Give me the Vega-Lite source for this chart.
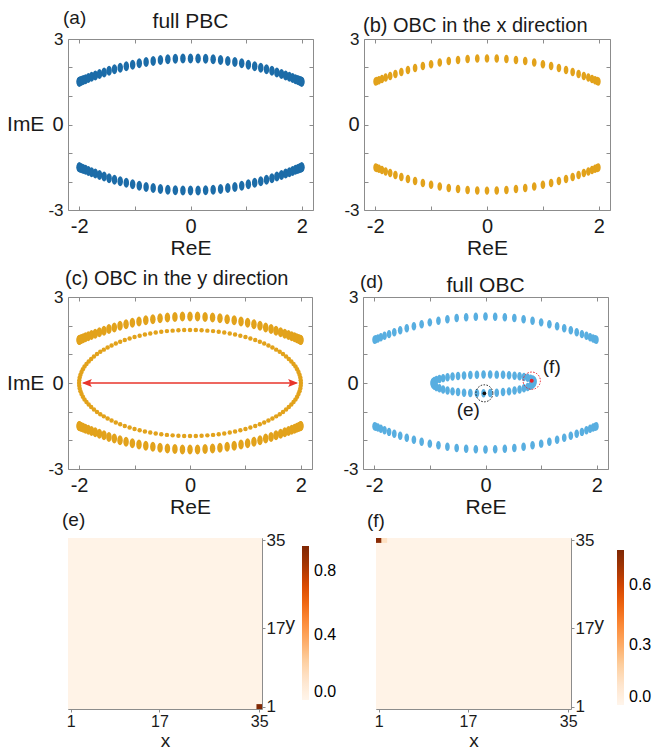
{
"$schema":"https://vega.github.io/schema/vega-lite/v6.json",
"padding":{"left":6,"top":8,"right":0,"bottom":0},
"config":{
 "font":"Liberation Sans",
 "view":{"stroke":"#8c8c8c","strokeWidth":1},
 "axis":{"domain":false,"grid":false,"tickColor":"#8c8c8c","labelColor":"#1a1a1a","titleColor":"#1a1a1a","titleFontWeight":"normal","labelFont":"Liberation Sans","titleFont":"Liberation Sans","labelOverlap":false},
 "text":{"font":"Liberation Sans","color":"#1a1a1a"}
},
"datasets":{
"pbc":[
{"re":-2,"im":1.5},{"re":-1.995,"im":1.504},{"re":-1.981,"im":1.516},{"re":-1.958,"im":1.534},{"re":-1.926,"im":1.56},{"re":-1.885,"im":1.592},{"re":-1.834,"im":1.63},{"re":-1.776,"im":1.673},{"re":-1.709,"im":1.721},{"re":-1.634,"im":1.773},{"re":-1.551,"im":1.827},{"re":-1.462,"im":1.882},{"re":-1.365,"im":1.938},{"re":-1.262,"im":1.994},{"re":-1.153,"im":2.048},{"re":-1.039,"im":2.099},{"re":-0.92,"im":2.146},{"re":-0.797,"im":2.19},{"re":-0.67,"im":2.228},{"re":-0.54,"im":2.26},{"re":-0.407,"im":2.286},{"re":-0.272,"im":2.305},{"re":-0.136,"im":2.316},{"re":0,"im":2.32},{"re":0.136,"im":2.316},{"re":0.272,"im":2.305},{"re":0.407,"im":2.286},{"re":0.54,"im":2.26},{"re":0.67,"im":2.228},{"re":0.797,"im":2.19},{"re":0.92,"im":2.146},{"re":1.039,"im":2.099},{"re":1.153,"im":2.048},{"re":1.262,"im":1.994},{"re":1.365,"im":1.938},{"re":1.462,"im":1.882},{"re":1.551,"im":1.827},{"re":1.634,"im":1.773},{"re":1.709,"im":1.721},{"re":1.776,"im":1.673},{"re":1.834,"im":1.63},{"re":1.885,"im":1.592},{"re":1.926,"im":1.56},{"re":1.958,"im":1.534},{"re":1.981,"im":1.516},{"re":1.995,"im":1.504},{"re":2,"im":1.5},
{"re":-2,"im":-1.5},{"re":-1.995,"im":-1.504},{"re":-1.981,"im":-1.516},{"re":-1.958,"im":-1.534},{"re":-1.926,"im":-1.56},{"re":-1.885,"im":-1.592},{"re":-1.834,"im":-1.63},{"re":-1.776,"im":-1.673},{"re":-1.709,"im":-1.721},{"re":-1.634,"im":-1.773},{"re":-1.551,"im":-1.827},{"re":-1.462,"im":-1.882},{"re":-1.365,"im":-1.938},{"re":-1.262,"im":-1.994},{"re":-1.153,"im":-2.048},{"re":-1.039,"im":-2.099},{"re":-0.92,"im":-2.146},{"re":-0.797,"im":-2.19},{"re":-0.67,"im":-2.228},{"re":-0.54,"im":-2.26},{"re":-0.407,"im":-2.286},{"re":-0.272,"im":-2.305},{"re":-0.136,"im":-2.316},{"re":0,"im":-2.32},{"re":0.136,"im":-2.316},{"re":0.272,"im":-2.305},{"re":0.407,"im":-2.286},{"re":0.54,"im":-2.26},{"re":0.67,"im":-2.228},{"re":0.797,"im":-2.19},{"re":0.92,"im":-2.146},{"re":1.039,"im":-2.099},{"re":1.153,"im":-2.048},{"re":1.262,"im":-1.994},{"re":1.365,"im":-1.938},{"re":1.462,"im":-1.882},{"re":1.551,"im":-1.827},{"re":1.634,"im":-1.773},{"re":1.709,"im":-1.721},{"re":1.776,"im":-1.673},{"re":1.834,"im":-1.63},{"re":1.885,"im":-1.592},{"re":1.926,"im":-1.56},{"re":1.958,"im":-1.534},{"re":1.981,"im":-1.516},{"re":1.995,"im":-1.504},{"re":2,"im":-1.5}
],
"obcx":[
{"re":-1.992,"im":1.506},{"re":-1.97,"im":1.525},{"re":-1.932,"im":1.555},{"re":-1.879,"im":1.596},{"re":-1.813,"im":1.646},{"re":-1.732,"im":1.705},{"re":-1.638,"im":1.77},{"re":-1.532,"im":1.839},{"re":-1.414,"im":1.91},{"re":-1.286,"im":1.981},{"re":-1.147,"im":2.05},{"re":-1,"im":2.115},{"re":-0.845,"im":2.174},{"re":-0.684,"im":2.224},{"re":-0.518,"im":2.265},{"re":-0.347,"im":2.295},{"re":-0.174,"im":2.314},{"re":0,"im":2.32},{"re":0.174,"im":2.314},{"re":0.347,"im":2.295},{"re":0.518,"im":2.265},{"re":0.684,"im":2.224},{"re":0.845,"im":2.174},{"re":1,"im":2.115},{"re":1.147,"im":2.05},{"re":1.286,"im":1.981},{"re":1.414,"im":1.91},{"re":1.532,"im":1.839},{"re":1.638,"im":1.77},{"re":1.732,"im":1.705},{"re":1.813,"im":1.646},{"re":1.879,"im":1.596},{"re":1.932,"im":1.555},{"re":1.97,"im":1.525},{"re":1.992,"im":1.506},
{"re":-1.992,"im":-1.506},{"re":-1.97,"im":-1.525},{"re":-1.932,"im":-1.555},{"re":-1.879,"im":-1.596},{"re":-1.813,"im":-1.646},{"re":-1.732,"im":-1.705},{"re":-1.638,"im":-1.77},{"re":-1.532,"im":-1.839},{"re":-1.414,"im":-1.91},{"re":-1.286,"im":-1.981},{"re":-1.147,"im":-2.05},{"re":-1,"im":-2.115},{"re":-0.845,"im":-2.174},{"re":-0.684,"im":-2.224},{"re":-0.518,"im":-2.265},{"re":-0.347,"im":-2.295},{"re":-0.174,"im":-2.314},{"re":0,"im":-2.32},{"re":0.174,"im":-2.314},{"re":0.347,"im":-2.295},{"re":0.518,"im":-2.265},{"re":0.684,"im":-2.224},{"re":0.845,"im":-2.174},{"re":1,"im":-2.115},{"re":1.147,"im":-2.05},{"re":1.286,"im":-1.981},{"re":1.414,"im":-1.91},{"re":1.532,"im":-1.839},{"re":1.638,"im":-1.77},{"re":1.732,"im":-1.705},{"re":1.813,"im":-1.646},{"re":1.879,"im":-1.596},{"re":1.932,"im":-1.555},{"re":1.97,"im":-1.525},{"re":1.992,"im":-1.506}
],
"ellipse":[
{"re":2,"im":0},{"re":1.997,"im":0.097},{"re":1.989,"im":0.193},{"re":1.975,"im":0.289},{"re":1.956,"im":0.385},{"re":1.932,"im":0.479},{"re":1.902,"im":0.572},{"re":1.867,"im":0.663},{"re":1.827,"im":0.752},{"re":1.782,"im":0.84},{"re":1.732,"im":0.925},{"re":1.677,"im":1.008},{"re":1.618,"im":1.087},{"re":1.554,"im":1.164},{"re":1.486,"im":1.238},{"re":1.414,"im":1.308},{"re":1.338,"im":1.375},{"re":1.259,"im":1.438},{"re":1.176,"im":1.497},{"re":1.089,"im":1.552},{"re":1,"im":1.602},{"re":0.908,"im":1.648},{"re":0.813,"im":1.69},{"re":0.717,"im":1.727},{"re":0.618,"im":1.759},{"re":0.518,"im":1.787},{"re":0.416,"im":1.81},{"re":0.313,"im":1.827},{"re":0.209,"im":1.84},{"re":0.105,"im":1.847},
{"re":0,"im":1.85},{"re":-0.105,"im":1.847},{"re":-0.209,"im":1.84},{"re":-0.313,"im":1.827},{"re":-0.416,"im":1.81},{"re":-0.518,"im":1.787},{"re":-0.618,"im":1.759},{"re":-0.717,"im":1.727},{"re":-0.813,"im":1.69},{"re":-0.908,"im":1.648},{"re":-1,"im":1.602},{"re":-1.089,"im":1.552},{"re":-1.176,"im":1.497},{"re":-1.259,"im":1.438},{"re":-1.338,"im":1.375},{"re":-1.414,"im":1.308},{"re":-1.486,"im":1.238},{"re":-1.554,"im":1.164},{"re":-1.618,"im":1.087},{"re":-1.677,"im":1.008},{"re":-1.732,"im":0.925},{"re":-1.782,"im":0.84},{"re":-1.827,"im":0.752},{"re":-1.867,"im":0.663},{"re":-1.902,"im":0.572},{"re":-1.932,"im":0.479},{"re":-1.956,"im":0.385},{"re":-1.975,"im":0.289},{"re":-1.989,"im":0.193},{"re":-1.997,"im":0.097},
{"re":-2,"im":0},{"re":-1.997,"im":-0.097},{"re":-1.989,"im":-0.193},{"re":-1.975,"im":-0.289},{"re":-1.956,"im":-0.385},{"re":-1.932,"im":-0.479},{"re":-1.902,"im":-0.572},{"re":-1.867,"im":-0.663},{"re":-1.827,"im":-0.752},{"re":-1.782,"im":-0.84},{"re":-1.732,"im":-0.925},{"re":-1.677,"im":-1.008},{"re":-1.618,"im":-1.087},{"re":-1.554,"im":-1.164},{"re":-1.486,"im":-1.238},{"re":-1.414,"im":-1.308},{"re":-1.338,"im":-1.375},{"re":-1.259,"im":-1.438},{"re":-1.176,"im":-1.497},{"re":-1.089,"im":-1.552},{"re":-1,"im":-1.602},{"re":-0.908,"im":-1.648},{"re":-0.813,"im":-1.69},{"re":-0.717,"im":-1.727},{"re":-0.618,"im":-1.759},{"re":-0.518,"im":-1.787},{"re":-0.416,"im":-1.81},{"re":-0.313,"im":-1.827},{"re":-0.209,"im":-1.84},{"re":-0.105,"im":-1.847},
{"re":0,"im":-1.85},{"re":0.105,"im":-1.847},{"re":0.209,"im":-1.84},{"re":0.313,"im":-1.827},{"re":0.416,"im":-1.81},{"re":0.518,"im":-1.787},{"re":0.618,"im":-1.759},{"re":0.717,"im":-1.727},{"re":0.813,"im":-1.69},{"re":0.908,"im":-1.648},{"re":1,"im":-1.602},{"re":1.089,"im":-1.552},{"re":1.176,"im":-1.497},{"re":1.259,"im":-1.438},{"re":1.338,"im":-1.375},{"re":1.414,"im":-1.308},{"re":1.486,"im":-1.238},{"re":1.554,"im":-1.164},{"re":1.618,"im":-1.087},{"re":1.677,"im":-1.008},{"re":1.732,"im":-0.925},{"re":1.782,"im":-0.84},{"re":1.827,"im":-0.752},{"re":1.867,"im":-0.663},{"re":1.902,"im":-0.572},{"re":1.932,"im":-0.479},{"re":1.956,"im":-0.385},{"re":1.975,"im":-0.289},{"re":1.989,"im":-0.193},{"re":1.997,"im":-0.097}
],
"loop":[
{"re":0.88,"im":0.05},{"re":0.872,"im":0.085},{"re":0.849,"im":0.119},{"re":0.81,"im":0.151},{"re":0.757,"im":0.182},{"re":0.691,"im":0.209},{"re":0.612,"im":0.234},{"re":0.522,"im":0.254},{"re":0.423,"im":0.271},{"re":0.315,"im":0.284},{"re":0.202,"im":0.292},{"re":0.084,"im":0.296},{"re":-0.035,"im":0.295},{"re":-0.154,"im":0.289},{"re":-0.272,"im":0.279},{"re":-0.385,"im":0.265},{"re":-0.493,"im":0.246},{"re":-0.592,"im":0.224},{"re":-0.682,"im":0.198},{"re":-0.761,"im":0.17},{"re":-0.827,"im":0.138},{"re":-0.88,"im":0.105},{"re":-0.919,"im":0.071},{"re":-0.942,"im":0.035},{"re":-0.95,"im":0},
{"re":-0.942,"im":-0.049},{"re":-0.919,"im":-0.097},{"re":-0.88,"im":-0.144},{"re":-0.827,"im":-0.187},{"re":-0.761,"im":-0.226},{"re":-0.682,"im":-0.261},{"re":-0.592,"im":-0.292},{"re":-0.493,"im":-0.317},{"re":-0.385,"im":-0.336},{"re":-0.272,"im":-0.349},{"re":-0.154,"im":-0.355},{"re":-0.035,"im":-0.355},{"re":0.084,"im":-0.348},{"re":0.202,"im":-0.336},{"re":0.315,"im":-0.317},{"re":0.423,"im":-0.292},{"re":0.522,"im":-0.261},{"re":0.612,"im":-0.226},{"re":0.691,"im":-0.187},{"re":0.757,"im":-0.143},{"re":0.81,"im":-0.097},{"re":0.849,"im":-0.049},{"re":0.872,"im":0}
]
},
"spacing":-8,
"vconcat":[
{"spacing":9,"vconcat":[
 {"bounds":"flush","spacing":51,"hconcat":[
  {"width":245,"height":171,
   "resolve":{"axis":{"x":"independent","y":"independent"}},
   "layer":[
    {"data":{"name":"pbc"},"mark":{"type":"point","shape":"M0,-1A0.55,1,0,1,1,0,1A0.55,1,0,1,1,0,-1Z","filled":true,"size":100,"opacity":1,"color":"#1c6ca8"},
     "encoding":{
      "x":{"field":"re","type":"quantitative","scale":{"domain":[-2.2,2.2],"nice":false,"zero":false},"axis":{"orient":"bottom","title":"ReE","values":[-2,-1,0,1,2],"labelExpr":"datum.value % 2 == 0 ? '' + datum.value : ''","labelFontSize":20,"titleFontSize":21,"tickSize":-4,"labelPadding":10,"titlePadding":1,"labelFlush":false,"labelOverlap":false}},
      "y":{"field":"im","type":"quantitative","scale":{"domain":[-3,3],"nice":false,"zero":false},"axis":{"orient":"left","title":"ImE","titleAngle":0,"titleAlign":"right","titleBaseline":"middle","titleFontSize":21,"titlePadding":4,"values":[-3,-2,-1,0,1,2,3],"labelExpr":"datum.value % 3 == 0 ? '' + datum.value : ''","labelFontSize":{"condition":{"test":"datum.value == 0","value":20},"value":17},"tickSize":-4,"labelPadding":9,"labelOverlap":false}}}},
    {"data":{"values":[{}]},"mark":{"type":"text","text":"(a)","align":"left","baseline":"alphabetic","dx":-5,"dy":-15,"fontSize":19},
     "encoding":{"x":{"datum":-2.2,"type":"quantitative","axis":{"orient":"top","labels":false,"title":null,"values":[-2,-1,0,1,2],"tickSize":-4}},"y":{"datum":3,"type":"quantitative","axis":{"orient":"right","labels":false,"title":null,"values":[-3,-2,-1,0,1,2,3],"tickSize":-4}}}},
    {"data":{"values":[{}]},"mark":{"type":"text","text":"full PBC","align":"center","baseline":"alphabetic","dy":-11,"fontSize":21},
     "encoding":{"x":{"datum":0,"type":"quantitative","axis":null},"y":{"datum":3,"type":"quantitative","axis":null}}}
   ]},
  {"width":246,"height":171,
   "resolve":{"axis":{"x":"independent","y":"independent"}},
   "layer":[
    {"data":{"name":"obcx"},"mark":{"type":"point","shape":"M0,-1A0.55,1,0,1,1,0,1A0.55,1,0,1,1,0,-1Z","filled":true,"size":72,"opacity":1,"color":"#e2a21b"},
     "encoding":{
      "x":{"field":"re","type":"quantitative","scale":{"domain":[-2.2,2.2],"nice":false,"zero":false},"axis":{"orient":"bottom","title":"ReE","values":[-2,-1,0,1,2],"labelExpr":"datum.value % 2 == 0 ? '' + datum.value : ''","labelFontSize":20,"titleFontSize":21,"tickSize":-4,"labelPadding":10,"titlePadding":1,"labelFlush":false,"labelOverlap":false}},
      "y":{"field":"im","type":"quantitative","scale":{"domain":[-3,3],"nice":false,"zero":false},"axis":{"orient":"left","title":null,"values":[-3,-2,-1,0,1,2,3],"labelExpr":"datum.value % 3 == 0 ? '' + datum.value : ''","labelFontSize":{"condition":{"test":"datum.value == 0","value":20},"value":17},"tickSize":-4,"labelPadding":9,"labelOverlap":false}}}},
    {"data":{"values":[{}]},"mark":{"type":"text","text":"(b) OBC in the x direction","align":"left","baseline":"alphabetic","dx":-1,"dy":-7,"fontSize":20},
     "encoding":{"x":{"datum":-2.2,"type":"quantitative","axis":{"orient":"top","labels":false,"title":null,"values":[-2,-1,0,1,2],"tickSize":-4}},"y":{"datum":3,"type":"quantitative","axis":{"orient":"right","labels":false,"title":null,"values":[-3,-2,-1,0,1,2,3],"tickSize":-4}}}}
   ]}
 ]},
 {"bounds":"flush","spacing":51,"hconcat":[
  {"width":244,"height":172,
   "resolve":{"axis":{"x":"independent","y":"independent"}},
   "layer":[
    {"data":{"name":"pbc"},"mark":{"type":"point","shape":"M0,-1A0.55,1,0,1,1,0,1A0.55,1,0,1,1,0,-1Z","filled":true,"size":100,"opacity":1,"color":"#e2a21b"},
     "encoding":{
      "x":{"field":"re","type":"quantitative","scale":{"domain":[-2.2,2.2],"nice":false,"zero":false},"axis":{"orient":"bottom","title":"ReE","values":[-2,-1,0,1,2],"labelExpr":"datum.value % 2 == 0 ? '' + datum.value : ''","labelFontSize":20,"titleFontSize":21,"tickSize":-4,"labelPadding":10,"titlePadding":1,"labelFlush":false,"labelOverlap":false}},
      "y":{"field":"im","type":"quantitative","scale":{"domain":[-3,3],"nice":false,"zero":false},"axis":{"orient":"left","title":"ImE","titleAngle":0,"titleAlign":"right","titleBaseline":"middle","titleFontSize":21,"titlePadding":4,"values":[-3,-2,-1,0,1,2,3],"labelExpr":"datum.value % 3 == 0 ? '' + datum.value : ''","labelFontSize":{"condition":{"test":"datum.value == 0","value":20},"value":17},"tickSize":-4,"labelPadding":9,"labelOverlap":false}}}},
    {"data":{"name":"ellipse"},"mark":{"type":"point","shape":"circle","filled":true,"size":20,"opacity":1,"color":"#e2a21b"},
     "encoding":{"x":{"field":"re","type":"quantitative","axis":null},"y":{"field":"im","type":"quantitative","axis":null}}},
    {"data":{"values":[{}]},"mark":{"type":"rule","color":"#e8352b","strokeWidth":1.5},
     "encoding":{"x":{"datum":-1.92,"type":"quantitative","axis":null},"x2":{"datum":1.92},"y":{"datum":0,"type":"quantitative","axis":null}}},
    {"data":{"values":[{}]},"mark":{"type":"point","shape":"M0,0L2,-0.8L1.6,0L2,0.8Z","filled":true,"size":100,"opacity":1,"color":"#e8352b"},
     "encoding":{"x":{"datum":-1.95,"type":"quantitative","axis":null},"y":{"datum":0,"type":"quantitative","axis":null}}},
    {"data":{"values":[{}]},"mark":{"type":"point","shape":"M0,0L-2,-0.8L-1.6,0L-2,0.8Z","filled":true,"size":100,"opacity":1,"color":"#e8352b"},
     "encoding":{"x":{"datum":1.95,"type":"quantitative","axis":null},"y":{"datum":0,"type":"quantitative","axis":null}}},
    {"data":{"values":[{}]},"mark":{"type":"text","text":"(c) OBC in the y direction","align":"left","baseline":"alphabetic","dx":-3,"dy":-12,"fontSize":20},
     "encoding":{"x":{"datum":-2.2,"type":"quantitative","axis":{"orient":"top","labels":false,"title":null,"values":[-2,-1,0,1,2],"tickSize":-4}},"y":{"datum":3,"type":"quantitative","axis":{"orient":"right","labels":false,"title":null,"values":[-3,-2,-1,0,1,2,3],"tickSize":-4}}}}
   ]},
  {"width":245,"height":172,
   "resolve":{"axis":{"x":"independent","y":"independent"}},
   "layer":[
    {"data":{"name":"obcx"},"mark":{"type":"point","shape":"M0,-1A0.55,1,0,1,1,0,1A0.55,1,0,1,1,0,-1Z","filled":true,"size":72,"opacity":1,"color":"#58aee0"},
     "encoding":{
      "x":{"field":"re","type":"quantitative","scale":{"domain":[-2.2,2.2],"nice":false,"zero":false},"axis":{"orient":"bottom","title":"ReE","values":[-2,-1,0,1,2],"labelExpr":"datum.value % 2 == 0 ? '' + datum.value : ''","labelFontSize":20,"titleFontSize":21,"tickSize":-4,"labelPadding":10,"titlePadding":1,"labelFlush":false,"labelOverlap":false}},
      "y":{"field":"im","type":"quantitative","scale":{"domain":[-3,3],"nice":false,"zero":false},"axis":{"orient":"left","title":null,"values":[-3,-2,-1,0,1,2,3],"labelExpr":"datum.value % 3 == 0 ? '' + datum.value : ''","labelFontSize":{"condition":{"test":"datum.value == 0","value":20},"value":17},"tickSize":-4,"labelPadding":9,"labelOverlap":false}}}},
    {"data":{"name":"loop"},"mark":{"type":"point","shape":"M0,-1A0.55,1,0,1,1,0,1A0.55,1,0,1,1,0,-1Z","filled":true,"size":72,"opacity":1,"color":"#58aee0"},
     "encoding":{"x":{"field":"re","type":"quantitative","axis":null},"y":{"field":"im","type":"quantitative","axis":null}}},
    {"data":{"values":[{"re":-0.02,"im":-0.36}]},"mark":{"type":"point","shape":"circle","filled":true,"size":14,"opacity":1,"color":"#111111"},
     "encoding":{"x":{"field":"re","type":"quantitative","axis":null},"y":{"field":"im","type":"quantitative","axis":null}}},
    {"data":{"values":[{"re":-0.02,"im":-0.36}]},"mark":{"type":"point","shape":"circle","filled":false,"size":289,"opacity":1,"color":"#111111","strokeWidth":1,"strokeDash":[1.5,1.5]},
     "encoding":{"x":{"field":"re","type":"quantitative","axis":null},"y":{"field":"im","type":"quantitative","axis":null}}},
    {"data":{"values":[{"re":0.83,"im":0.08}]},"mark":{"type":"point","shape":"circle","filled":true,"size":16,"opacity":1,"color":"#e8202a"},
     "encoding":{"x":{"field":"re","type":"quantitative","axis":null},"y":{"field":"im","type":"quantitative","axis":null}}},
    {"data":{"values":[{"re":0.83,"im":0.08}]},"mark":{"type":"point","shape":"circle","filled":false,"size":300,"opacity":1,"color":"#e8202a","strokeWidth":1,"strokeDash":[1.5,1.5]},
     "encoding":{"x":{"field":"re","type":"quantitative","axis":null},"y":{"field":"im","type":"quantitative","axis":null}}},
    {"data":{"values":[{}]},"mark":{"type":"text","text":"(f)","align":"center","baseline":"middle","fontSize":19},
     "encoding":{"x":{"datum":1.19,"type":"quantitative","axis":null},"y":{"datum":0.57,"type":"quantitative","axis":null}}},
    {"data":{"values":[{}]},"mark":{"type":"text","text":"(e)","align":"center","baseline":"middle","fontSize":19},
     "encoding":{"x":{"datum":-0.31,"type":"quantitative","axis":null},"y":{"datum":-0.95,"type":"quantitative","axis":null}}},
    {"data":{"values":[{}]},"mark":{"type":"text","text":"(d)","align":"left","baseline":"alphabetic","dx":-3,"dy":-9,"fontSize":19},
     "encoding":{"x":{"datum":-2.2,"type":"quantitative","axis":{"orient":"top","labels":false,"title":null,"values":[-2,-1,0,1,2],"tickSize":-4}},"y":{"datum":3,"type":"quantitative","axis":{"orient":"right","labels":false,"title":null,"values":[-3,-2,-1,0,1,2,3],"tickSize":-4}}}},
    {"data":{"values":[{}]},"mark":{"type":"text","text":"full OBC","align":"center","baseline":"alphabetic","dy":-5,"fontSize":21},
     "encoding":{"x":{"datum":0,"type":"quantitative","axis":null},"y":{"datum":3,"type":"quantitative","axis":null}}}
   ]}
 ]}
]},
{"bounds":"flush","spacing":114,
 "resolve":{"scale":{"color":"independent"},"legend":{"color":"independent"}},
 "hconcat":[
  {"width":194,"height":171,
   "layer":[
    {"data":{"values":[{"x0":0.5,"x1":35.5,"y0":0.5,"y1":35.5,"p":0.015},{"x0":34.5,"x1":35.5,"y0":0.5,"y1":1.5,"p":0.95}]},
     "mark":{"type":"rect"},
     "encoding":{
      "x":{"field":"x0","type":"quantitative","scale":{"domain":[0.5,35.5],"nice":false,"zero":false},"axis":{"values":[1,17,35],"title":"x","labelFontSize":16,"titleFontSize":19,"tickSize":3,"labelPadding":1,"titlePadding":2,"labelFlush":false}},
      "x2":{"field":"x1"},
      "y":{"field":"y0","type":"quantitative","scale":{"domain":[0.5,35.5],"nice":false,"zero":false},"axis":{"orient":"right","values":[1,17,35],"title":"y","titleAngle":0,"titleAlign":"left","titleBaseline":"middle","titlePadding":0,"labelFontSize":17,"titleFontSize":19,"tickSize":3,"labelPadding":1}},
      "y2":{"field":"y1"},
      "color":{"field":"p","type":"quantitative","scale":{"domain":[0,0.955],"range":["#fff5eb","#fee6ce","#fdd0a2","#fdae6b","#fd8d3c","#f16913","#d94801","#a63603","#7f2704"]},"legend":{"orient":"none","legendX":234,"legendY":8,"direction":"vertical","title":null,"gradientLength":154,"gradientThickness":7,"values":[0,0.4,0.8],"format":".1f","labelFontSize":16,"labelOffset":5,"gradientStrokeWidth":0}}
     }},
    {"data":{"values":[{}]},"mark":{"type":"text","text":"(e)","align":"left","baseline":"alphabetic","dx":-6,"dy":-12,"fontSize":19},
     "encoding":{"x":{"datum":0.5,"type":"quantitative"},"y":{"datum":35.5,"type":"quantitative"}}},
    {"data":{"values":[{}]},"mark":{"type":"text","text":"ImE","align":"right","baseline":"middle","dx":-20,"fontSize":21,"opacity":0},
     "encoding":{"x":{"datum":0.5,"type":"quantitative"},"y":{"datum":18,"type":"quantitative"}}}
   ]},
  {"width":195,"height":171,
   "layer":[
    {"data":{"values":[{"x0":0.5,"x1":35.5,"y0":0.5,"y1":35.5,"p":0.012},{"x0":0.5,"x1":1.5,"y0":34.5,"y1":35.5,"p":0.75},{"x0":1.5,"x1":2.5,"y0":34.5,"y1":35.5,"p":0.12}]},
     "mark":{"type":"rect"},
     "encoding":{
      "x":{"field":"x0","type":"quantitative","scale":{"domain":[0.5,35.5],"nice":false,"zero":false},"axis":{"values":[1,17,35],"title":"x","labelFontSize":16,"titleFontSize":19,"tickSize":3,"labelPadding":1,"titlePadding":2,"labelFlush":false}},
      "x2":{"field":"x1"},
      "y":{"field":"y0","type":"quantitative","scale":{"domain":[0.5,35.5],"nice":false,"zero":false},"axis":{"orient":"right","values":[1,17,35],"title":"y","titleAngle":0,"titleAlign":"left","titleBaseline":"middle","titlePadding":0,"labelFontSize":17,"titleFontSize":19,"tickSize":3,"labelPadding":1}},
      "y2":{"field":"y1"},
      "color":{"field":"p","type":"quantitative","scale":{"domain":[0,0.775],"range":["#fff5eb","#fee6ce","#fdd0a2","#fdae6b","#fd8d3c","#f16913","#d94801","#a63603","#7f2704"]},"legend":{"orient":"none","legendX":241,"legendY":12,"direction":"vertical","title":null,"gradientLength":155,"gradientThickness":7,"values":[0,0.3,0.6],"format":".1f","labelFontSize":16,"labelOffset":5,"gradientStrokeWidth":0}}
     }},
    {"data":{"values":[{}]},"mark":{"type":"text","text":"(f)","align":"left","baseline":"alphabetic","dx":-9,"dy":-11,"fontSize":19},
     "encoding":{"x":{"datum":0.5,"type":"quantitative"},"y":{"datum":35.5,"type":"quantitative"}}}
   ]}
 ]}
]
}
